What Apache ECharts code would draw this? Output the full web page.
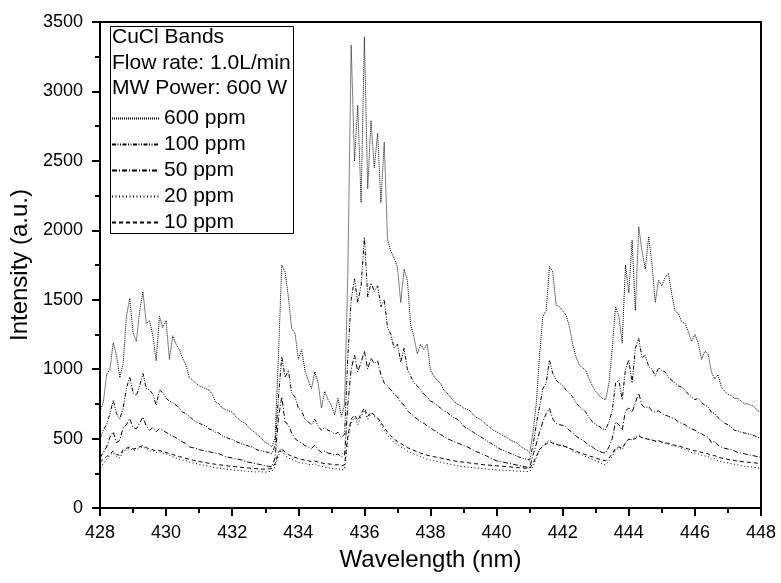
<!DOCTYPE html>
<html><head><meta charset="utf-8">
<script src="https://cdn.jsdelivr.net/npm/echarts@6/dist/echarts.min.js"></script>
<style>html,body{margin:0;padding:0;background:#fff}#c{width:781px;height:583px}</style>
</head><body><div id="c"></div>
<script>
const wavelength = [
428.0,428.1,428.2,428.3,428.4,428.5,428.6,428.7,428.8,428.9,
429.0,429.1,429.2,429.3,429.4,429.5,429.6,429.7,429.8,429.9,
430.0,430.1,430.2,430.3,430.4,430.5,430.6,430.7,430.8,430.9,
431.0,431.1,431.2,431.3,431.4,431.5,431.6,431.7,431.8,431.9,
432.0,432.1,432.2,432.3,432.4,432.5,432.6,432.7,432.8,432.9,
433.0,433.1,433.2,433.3,433.4,433.5,433.6,433.7,433.8,433.9,
434.0,434.1,434.2,434.3,434.4,434.5,434.6,434.7,434.8,434.9,
435.0,435.1,435.2,435.3,435.4,435.5,435.6,435.7,435.8,435.9,
436.0,436.1,436.2,436.3,436.4,436.5,436.6,436.7,436.8,436.9,
437.0,437.1,437.2,437.3,437.4,437.5,437.6,437.7,437.8,437.9,
438.0,438.1,438.2,438.3,438.4,438.5,438.6,438.7,438.8,438.9,
439.0,439.1,439.2,439.3,439.4,439.5,439.6,439.7,439.8,439.9,
440.0,440.1,440.2,440.3,440.4,440.5,440.6,440.7,440.8,440.9,
441.0,441.1,441.2,441.3,441.4,441.5,441.6,441.7,441.8,441.9,
442.0,442.1,442.2,442.3,442.4,442.5,442.6,442.7,442.8,442.9,
443.0,443.1,443.2,443.3,443.4,443.5,443.6,443.7,443.8,443.9,
444.0,444.1,444.2,444.3,444.4,444.5,444.6,444.7,444.8,444.9,
445.0,445.1,445.2,445.3,445.4,445.5,445.6,445.7,445.8,445.9,
446.0,446.1,446.2,446.3,446.4,446.5,446.6,446.7,446.8,446.9,
447.0,447.1,447.2,447.3,447.4,447.5,447.6,447.7,447.8,447.9,
448.0];

const ppm600 = [
700,760,960,1000,1190,1100,940,1040,1380,1510,
1260,1200,1420,1557,1330,1350,1240,1060,1380,1300,
1350,1070,1240,1180,1140,1080,1030,940,920,900,
880,870,860,850,820,760,750,720,710,700,
690,660,640,620,610,580,560,540,520,500,
470,460,440,510,1100,1750,1700,1520,1290,1260,
1070,1140,990,920,860,980,900,720,840,780,
740,670,790,660,740,1700,3334,2500,2900,2200,
3394,2300,2790,2450,2700,2200,2636,1930,1850,1800,
1735,1480,1720,1640,1320,1230,1110,1180,1140,1180,
990,950,920,900,850,830,800,770,750,740,
720,710,700,670,650,640,620,600,580,560,
550,535,520,510,490,480,470,450,430,420,
400,540,750,1100,1380,1420,1740,1700,1460,1450,
1420,1390,1310,1180,1090,1030,1010,990,930,880,
840,810,790,780,900,1150,1450,1380,1190,1750,
1550,1930,1420,2026,1850,1720,1954,1760,1480,1640,
1600,1660,1690,1540,1420,1400,1340,1330,1270,1200,
1250,1190,1070,1130,1110,980,930,960,870,840,
820,810,790,790,770,750,750,740,730,700,
690];

const ppm100 = [
500,560,600,680,776,680,640,720,860,945,
830,810,880,968,860,850,820,740,850,830,
790,770,760,740,720,690,680,660,640,620,
610,600,590,570,560,545,540,520,510,500,
495,480,470,460,455,445,440,425,415,410,
405,400,392,450,800,1089,940,990,830,800,
720,700,640,620,600,640,590,560,580,560,
550,530,545,510,530,1100,1500,1650,1480,1600,
1950,1520,1620,1560,1600,1450,1500,1300,1250,1150,
1180,1050,1150,1000,950,900,880,850,820,800,
770,760,740,720,700,690,670,650,640,620,
590,575,560,545,530,515,500,485,470,455,
440,425,415,405,395,385,375,365,358,352,
346,450,600,730,860,900,1066,970,920,900,
880,850,830,800,760,730,710,690,650,620,
600,590,570,565,620,700,900,920,780,1000,
1066,900,1150,1222,1080,1100,1020,1000,950,1010,
990,980,940,920,900,880,870,850,820,800,
780,790,760,740,730,690,680,650,630,610,
600,580,560,555,545,540,535,530,520,510,
500];

const ppm50 = [
360,400,440,510,548,470,490,580,600,644,
580,570,610,656,590,560,580,550,570,560,
545,530,520,505,490,475,465,440,435,430,
420,415,410,405,400,395,390,380,370,365,
360,355,350,345,335,330,325,320,315,310,
305,300,298,360,650,800,620,600,540,500,
480,470,450,440,430,450,420,400,410,395,
390,380,390,370,380,750,1000,1100,980,1050,
1130,1000,1080,1040,1060,960,900,880,850,820,
800,760,740,700,680,660,640,620,610,590,
580,560,545,530,515,500,490,480,470,460,
450,440,430,415,405,395,385,375,360,350,
340,335,330,325,320,315,310,305,300,295,
288,380,460,550,620,680,718,640,610,600,
595,585,560,540,520,500,490,470,450,440,
420,410,400,395,440,500,620,600,560,700,
720,690,760,826,740,720,730,700,690,700,
680,670,660,650,640,620,610,600,580,570,
560,545,535,520,510,470,480,450,440,430,
425,420,410,400,395,390,385,380,375,370,
365];

const ppm20 = [
290,320,350,380,400,370,360,410,420,430,
415,420,430,440,425,410,415,400,405,395,
390,380,370,360,350,345,340,330,325,320,
315,310,305,300,295,290,288,285,280,278,
275,272,270,268,265,263,262,260,262,260,
258,262,265,300,380,420,380,360,350,340,
330,325,320,315,310,320,305,300,295,290,
285,280,285,275,280,500,620,650,600,660,
700,640,680,660,640,600,560,520,500,470,
460,440,430,410,400,390,380,370,360,350,
345,340,335,330,325,320,315,310,305,300,
298,295,292,290,288,285,283,280,278,276,
275,273,272,270,270,268,266,265,264,263,
262,300,360,420,450,470,490,470,460,455,
450,440,430,410,400,390,380,370,360,350,
340,330,320,310,340,370,420,430,420,470,
500,490,510,530,510,500,495,490,480,485,
470,465,460,450,445,440,430,420,410,400,
395,390,380,375,370,350,355,340,335,330,
325,320,315,310,305,300,298,295,292,290,
285];

const ppm10 = [
330,350,370,390,410,385,380,420,430,440,
425,430,440,450,435,425,420,410,415,405,
400,392,385,378,370,365,358,350,345,340,
335,330,326,322,318,315,312,308,305,302,
300,298,295,292,290,288,286,284,282,280,
280,282,285,320,400,430,400,385,375,365,
355,350,345,340,335,340,330,325,320,318,
315,310,312,305,310,520,640,670,630,680,
720,660,690,670,650,615,580,545,520,495,
480,465,450,435,425,415,405,395,388,380,
375,370,365,360,355,350,345,340,336,332,
330,327,324,320,318,315,312,310,308,306,
304,302,300,298,296,294,292,290,288,286,
285,320,370,420,445,460,480,465,458,452,
448,440,432,420,410,400,392,384,375,368,
360,352,345,340,360,390,430,440,430,470,
495,490,500,520,505,500,495,490,482,485,
475,470,465,458,452,448,440,432,425,418,
412,408,400,395,390,375,378,365,360,355,
350,346,342,338,335,332,330,328,325,322,
320];

const seriesNames = ['600 ppm', '100 ppm', '50 ppm', '20 ppm', '10 ppm'];
const seriesValues = [ppm600, ppm100, ppm50, ppm20, ppm10];
const legendHeader = ['CuCl Bands', 'Flow rate: 1.0L/min', 'MW Power: 600 W'];
const xRange = [428, 448, 2];
const yRange = [0, 3500, 500];

const dashes = [[1, 1], [4, 1.5, 1, 1.5, 1, 1.5], [5, 2, 1, 2], [1, 2.5], [4, 3]];
const FONT = 'Liberation Sans, Arial, sans-serif';

const chart = echarts.init(document.getElementById('c'), null, {renderer: 'canvas'});

const series = seriesNames.map((name, k) => ({
  name: name,
  type: 'line',
  symbol: 'none',
  showSymbol: false,
  animation: false,
  lineStyle: {color: '#000', width: 1, type: dashes[k]},
  itemStyle: {color: '#000'},
  data: wavelength.map((w, i) => [w, seriesValues[k][i]])
}));

const headerY = [39, 65, 90];
const graphics = [{
  type: 'rect', left: 110, top: 26, z: 100,
  shape: {width: 183, height: 207},
  style: {fill: 'rgba(255,255,255,0)', stroke: '#000', lineWidth: 1}
}].concat(legendHeader.map((t, i) => ({
  type: 'text', left: 112, top: headerY[i] - 12, z: 100,
  style: {text: t, fill: '#000', font: '21px ' + FONT}
})));

chart.setOption({
  animation: false,
  backgroundColor: '#fff',
  grid: {left: 100, right: 20, top: 22, bottom: 75, show: true, borderColor: '#000', borderWidth: 2},
  legend: {
    data: seriesNames, orient: 'vertical', left: 111, top: 108,
    itemWidth: 47, itemHeight: 14, itemGap: 5,
    itemStyle: {opacity: 0},
    textStyle: {fontSize: 21, color: '#000', fontFamily: FONT},
    padding: 0
  },
  xAxis: {
    type: 'value', min: xRange[0], max: xRange[1], interval: xRange[2],
    name: 'Wavelength (nm)', nameLocation: 'middle', nameGap: 40,
    nameTextStyle: {fontSize: 24, color: '#000', fontFamily: FONT},
    axisLine: {lineStyle: {color: '#000', width: 2}},
    axisTick: {show: true, inside: false, length: 8, lineStyle: {color: '#000', width: 2}},
    minorTick: {show: true, splitNumber: 2, length: 5, lineStyle: {color: '#000', width: 2}},
    splitLine: {show: false},
    axisLabel: {fontSize: 18, color: '#000', fontFamily: FONT, margin: 16, formatter: v => String(v)}
  },
  yAxis: {
    type: 'value', min: yRange[0], max: yRange[1], interval: yRange[2],
    name: 'Intensity (a.u.)', nameLocation: 'middle', nameGap: 53,
    nameTextStyle: {fontSize: 24, color: '#000', fontFamily: FONT},
    axisLine: {lineStyle: {color: '#000', width: 2}},
    axisTick: {show: true, inside: false, length: 8, lineStyle: {color: '#000', width: 2}},
    minorTick: {show: true, splitNumber: 2, length: 5, lineStyle: {color: '#000', width: 2}},
    splitLine: {show: false},
    axisLabel: {fontSize: 18, color: '#000', fontFamily: FONT, margin: 17, formatter: v => String(v)}
  },
  graphic: graphics,
  series: series
});
</script>
</body></html>
